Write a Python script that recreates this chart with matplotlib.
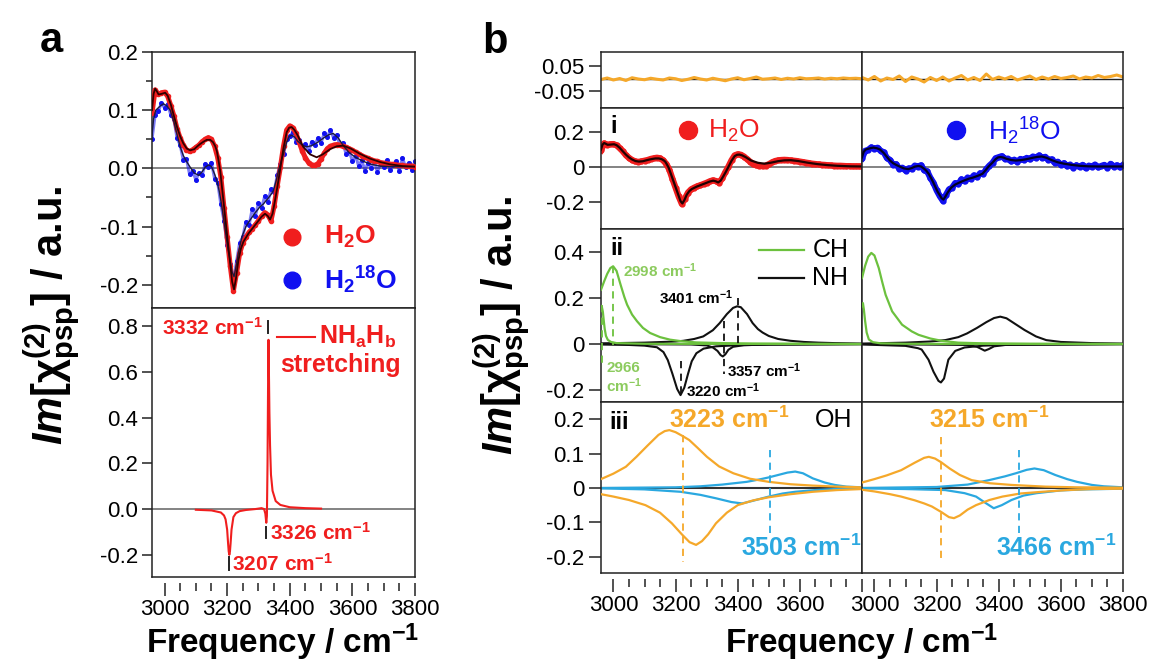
import matplotlib
matplotlib.use("Agg")
import matplotlib.pyplot as plt

plt.rcParams['font.family'] = ['Liberation Sans', 'DejaVu Sans']
plt.rcParams['axes.unicode_minus'] = False
plt.rcParams['mathtext.fontset'] = 'custom'
plt.rcParams['mathtext.rm'] = 'Liberation Sans'
plt.rcParams['mathtext.it'] = 'Liberation Sans:italic'
plt.rcParams['mathtext.bf'] = 'Liberation Sans:bold'
plt.rcParams['mathtext.bfit'] = 'Liberation Sans:bold:italic'
plt.rcParams['mathtext.sf'] = 'Liberation Sans'

# ---------------- data ----------------
freq_data = list(range(2960, 3801, 10))
h2o_data = [0.095, 0.135, 0.127, 0.130, 0.131, 0.124, 0.108, 0.090, 0.068, 0.052,
            0.040, 0.032, 0.029, 0.032, 0.036, 0.040, 0.046, 0.050, 0.053, 0.050,
            0.038, 0.018, -0.015, -0.068, -0.118, -0.168, -0.210, -0.180, -0.146, -0.128,
            -0.118, -0.110, -0.104, -0.097, -0.090, -0.082, -0.076, -0.080, -0.090, -0.065,
            -0.030, 0.002, 0.038, 0.066, 0.073, 0.070, 0.060, 0.045, 0.030, 0.018,
            0.010, 0.006, 0.005, 0.008, 0.016, 0.026, 0.034, 0.038, 0.040, 0.041,
            0.040, 0.038, 0.036, 0.034, 0.031, 0.028, 0.025, 0.022, 0.019, 0.017,
            0.015, 0.013, 0.012, 0.010, 0.009, 0.008, 0.007, 0.007, 0.006, 0.005,
            0.005, 0.004, 0.004, 0.004, 0.003]
h218o_data = [0.050, 0.092, 0.098, 0.112, 0.104, 0.110, 0.092, 0.084, 0.052, 0.040,
              0.014, 0.016, -0.010, -0.004, -0.020, -0.008, -0.012, 0.008, 0.002, 0.010,
              -0.018, -0.025, -0.062, -0.090, -0.132, -0.165, -0.192, -0.160, -0.128, -0.118,
              -0.092, -0.098, -0.070, -0.082, -0.060, -0.068, -0.048, -0.058, -0.036, -0.040,
              -0.012, 0.008, 0.024, 0.050, 0.056, 0.062, 0.046, 0.048, 0.032, 0.042,
              0.030, 0.046, 0.040, 0.052, 0.044, 0.060, 0.054, 0.066, 0.052, 0.058,
              0.040, 0.044, 0.024, 0.030, 0.012, 0.022, 0.004, 0.014, -0.004, 0.010,
              0.000, 0.012, -0.006, 0.008, 0.002, 0.014, -0.002, 0.006, 0.012, -0.004,
              0.018, 0.002, 0.010, -0.002, 0.012]

fit_h2o_f = [2960, 2965, 2970, 2975, 2981, 2990, 3002, 3010, 3020, 3030,
             3040, 3050, 3060, 3071, 3082, 3095, 3105, 3114, 3125, 3135,
             3146, 3155, 3162, 3167, 3172, 3178, 3183, 3188, 3195, 3204,
             3210, 3216, 3222, 3228, 3236, 3244, 3252, 3268, 3284, 3300,
             3310, 3321, 3330, 3337, 3345, 3353, 3361, 3369, 3380, 3390,
             3398, 3406, 3415, 3425, 3443, 3465, 3486, 3505, 3529, 3550,
             3571, 3595, 3624, 3655, 3688, 3720, 3760, 3800]
fit_h2o_v = [0.100, 0.128, 0.137, 0.133, 0.127, 0.128, 0.130, 0.125, 0.110, 0.090,
             0.071, 0.055, 0.043, 0.034, 0.031, 0.033, 0.038, 0.042, 0.046, 0.049,
             0.049, 0.045, 0.038, 0.030, 0.015, -0.005, -0.030, -0.055, -0.090, -0.135,
             -0.165, -0.195, -0.208, -0.190, -0.158, -0.138, -0.126, -0.112, -0.101, -0.090,
             -0.083, -0.078, -0.082, -0.088, -0.078, -0.055, -0.030, -0.003, 0.035, 0.062,
             0.070, 0.071, 0.066, 0.057, 0.037, 0.024, 0.019, 0.024, 0.033, 0.038,
             0.039, 0.034, 0.025, 0.017, 0.011, 0.007, 0.004, 0.003]
fit_h218o_f = [2960, 2965, 2972, 2980, 2988, 2997, 3008, 3018, 3030, 3040,
               3050, 3060, 3070, 3082, 3095, 3109, 3120, 3130, 3141, 3150,
               3160, 3167, 3175, 3182, 3188, 3195, 3203, 3210, 3216, 3222,
               3228, 3236, 3247, 3260, 3273, 3290, 3305, 3316, 3330, 3340,
               3348, 3357, 3366, 3374, 3380, 3390, 3398, 3406, 3415, 3425,
               3440, 3454, 3470, 3490, 3510, 3525, 3539, 3555, 3571, 3590,
               3610, 3635, 3660, 3688, 3720, 3760, 3800]
fit_h218o_v = [0.055, 0.085, 0.100, 0.104, 0.108, 0.111, 0.107, 0.100, 0.080, 0.058,
               0.037, 0.022, 0.012, 0.002, -0.008, -0.012, -0.006, 0.002, 0.006, 0.003,
               -0.010, -0.021, -0.040, -0.062, -0.083, -0.110, -0.140, -0.160, -0.178, -0.186,
               -0.170, -0.145, -0.118, -0.100, -0.089, -0.076, -0.066, -0.061, -0.052, -0.045,
               -0.038, -0.020, 0.000, 0.015, 0.025, 0.045, 0.055, 0.057, 0.054, 0.047,
               0.040, 0.037, 0.039, 0.045, 0.053, 0.058, 0.060, 0.052, 0.039, 0.027,
               0.019, 0.012, 0.007, 0.004, 0.003, 0.003, 0.003]

# NHaHb stretching spectrum (panel a, bottom)
nh_f = [3100, 3150, 3180, 3190, 3195, 3200, 3203, 3205, 3207, 3209,
        3211, 3214, 3220, 3228, 3240, 3260, 3290, 3310, 3318, 3322,
        3325, 3327, 3329, 3331, 3332, 3333, 3335, 3337, 3340, 3345,
        3355, 3370, 3400, 3450, 3500]
nh_v = [-0.003, -0.006, -0.015, -0.028, -0.045, -0.090, -0.150, -0.185, -0.200, -0.185,
        -0.150, -0.090, -0.035, -0.018, -0.009, -0.004, 0.000, 0.004, 0.000, -0.020,
        -0.060, -0.030, 0.200, 0.600, 0.740, 0.650, 0.420, 0.280, 0.150, 0.080,
        0.035, 0.018, 0.008, 0.004, 0.002]

# residuals (panel b, top)
freq_res = list(range(2960, 3801, 20))
res_h2o = [-0.004, 0.002, -0.006, 0.000, -0.008, 0.003, -0.002, -0.005, 0.001, -0.003,
           -0.006, 0.002, -0.001, -0.008, -0.003, 0.004, -0.002, -0.006, 0.001, -0.004,
           -0.009, -0.002, 0.003, -0.005, 0.000, 0.006, -0.003, -0.001, 0.002, -0.004,
           0.001, -0.002, 0.003, -0.001, 0.000, 0.002, -0.002, 0.001, -0.001, 0.002,
           0.000, 0.001, -0.001]
res_h218o = [0.004, -0.006, 0.008, -0.010, 0.002, -0.004, 0.010, -0.012, 0.006, -0.002,
             -0.014, 0.004, -0.008, 0.006, -0.010, 0.002, 0.012, -0.006, 0.004, -0.008,
             0.018, -0.004, 0.006, -0.002, 0.008, -0.006, 0.002, 0.010, -0.004, 0.006,
             -0.002, 0.008, 0.000, 0.004, 0.010, -0.002, 0.006, 0.002, 0.012, 0.004,
             0.008, 0.014, 0.006]

# row ii components, H2O (L) and H2-18O (R)
ch_big_L_f = [2960, 2970, 2980, 2990, 2999, 3010, 3023, 3035, 3044, 3060, 3076, 3095, 3118, 3150, 3182, 3220, 3267, 3350, 3450, 3600, 3800]
ch_big_L_v = [0.236, 0.272, 0.305, 0.330, 0.338, 0.318, 0.258, 0.205, 0.171, 0.128, 0.099, 0.070, 0.048, 0.030, 0.019, 0.012, 0.007, 0.004, 0.002, 0.001, 0.0]
ch_nar_L_f = [2960, 2963, 2966, 2969, 2972, 2976, 2982, 2992, 3010, 3100, 3800]
ch_nar_L_v = [0.165, 0.160, 0.140, 0.100, 0.065, 0.035, 0.018, 0.009, 0.004, 0.001, 0.0]
nh_pos_L_f = [2960, 3100, 3200, 3225, 3260, 3289, 3320, 3342, 3365, 3385, 3398, 3410, 3430, 3448, 3465, 3480, 3500, 3530, 3570, 3613, 3660, 3712, 3800]
nh_pos_L_v = [0.003, 0.006, 0.011, 0.014, 0.022, 0.033, 0.060, 0.091, 0.130, 0.157, 0.164, 0.160, 0.130, 0.091, 0.065, 0.050, 0.035, 0.022, 0.014, 0.009, 0.006, 0.004, 0.002]
nh_neg1_L_f = [2960, 3050, 3100, 3140, 3161, 3175, 3190, 3205, 3216, 3228, 3240, 3252, 3267, 3290, 3330, 3400, 3500, 3800]
nh_neg1_L_v = [-0.002, -0.004, -0.007, -0.014, -0.035, -0.070, -0.130, -0.195, -0.222, -0.190, -0.130, -0.075, -0.040, -0.020, -0.010, -0.005, -0.003, -0.001]
nh_neg2_L_f = [2960, 3250, 3300, 3320, 3335, 3345, 3352, 3360, 3370, 3385, 3420, 3500, 3800]
nh_neg2_L_v = [0.0, -0.002, -0.006, -0.015, -0.030, -0.048, -0.054, -0.045, -0.025, -0.012, -0.005, -0.002, 0.0]

ch_big_R_f = [2960, 2970, 2980, 2990, 3000, 3014, 3025, 3036, 3057, 3089, 3120, 3142, 3180, 3216, 3270, 3350, 3500, 3800]
ch_big_R_v = [0.287, 0.340, 0.380, 0.396, 0.385, 0.330, 0.270, 0.214, 0.142, 0.084, 0.055, 0.040, 0.024, 0.014, 0.006, 0.003, 0.001, 0.0]
ch_nar_R_f = [2960, 2963, 2966, 2970, 2975, 2982, 2995, 3020, 3100, 3800]
ch_nar_R_v = [0.165, 0.178, 0.150, 0.100, 0.050, 0.020, 0.008, 0.003, 0.001, 0.0]
nh_pos_R_f = [2960, 3100, 3180, 3228, 3270, 3298, 3330, 3360, 3385, 3405, 3425, 3450, 3483, 3520, 3553, 3600, 3700, 3800]
nh_pos_R_v = [0.002, 0.006, 0.011, 0.017, 0.030, 0.046, 0.070, 0.095, 0.113, 0.119, 0.112, 0.090, 0.061, 0.033, 0.017, 0.009, 0.004, 0.002]
nh_neg1_R_f = [2960, 3100, 3140, 3152, 3174, 3190, 3206, 3214, 3224, 3238, 3260, 3290, 3350, 3450, 3800]
nh_neg1_R_v = [-0.002, -0.008, -0.018, -0.024, -0.068, -0.120, -0.160, -0.167, -0.150, -0.068, -0.030, -0.015, -0.007, -0.003, -0.001]
nh_neg2_R_f = [2960, 3300, 3330, 3345, 3355, 3368, 3385, 3420, 3800]
nh_neg2_R_v = [0.0, -0.004, -0.012, -0.022, -0.029, -0.022, -0.010, -0.004, 0.0]

# row iii OH components
oh1_pos_L_f = [2960, 3000, 3040, 3074, 3110, 3145, 3165, 3180, 3200, 3222, 3244, 3270, 3301, 3340, 3386, 3440, 3500, 3570, 3642, 3720, 3800]
oh1_pos_L_v = [0.026, 0.042, 0.062, 0.091, 0.124, 0.155, 0.166, 0.169, 0.163, 0.152, 0.140, 0.118, 0.091, 0.063, 0.043, 0.027, 0.018, 0.011, 0.007, 0.004, 0.002]
oh1_neg_L_f = [2960, 3000, 3050, 3103, 3150, 3188, 3220, 3245, 3266, 3285, 3305, 3330, 3365, 3400, 3450, 3500, 3570, 3642, 3720, 3800]
oh1_neg_L_v = [-0.018, -0.025, -0.035, -0.050, -0.072, -0.103, -0.135, -0.158, -0.166, -0.155, -0.135, -0.103, -0.072, -0.050, -0.036, -0.027, -0.018, -0.011, -0.006, -0.003]
oh2_pos_L_f = [2960, 3200, 3280, 3350, 3429, 3470, 3500, 3530, 3560, 3585, 3610, 3642, 3680, 3712, 3750, 3800]
oh2_pos_L_v = [0.0, 0.002, 0.005, 0.010, 0.018, 0.025, 0.031, 0.038, 0.045, 0.048, 0.043, 0.028, 0.016, 0.009, 0.004, 0.002]
oh2_neg_L_f = [2960, 3100, 3216, 3280, 3330, 3380, 3414, 3450, 3500, 3545, 3585, 3650, 3712, 3800]
oh2_neg_L_v = [-0.001, -0.004, -0.011, -0.020, -0.030, -0.041, -0.045, -0.037, -0.025, -0.016, -0.011, -0.006, -0.003, -0.001]

oh1_pos_R_f = [2960, 3000, 3040, 3086, 3130, 3160, 3175, 3195, 3215, 3242, 3275, 3313, 3370, 3441, 3550, 3650, 3800]
oh1_pos_R_v = [0.016, 0.026, 0.037, 0.052, 0.074, 0.088, 0.091, 0.086, 0.075, 0.057, 0.038, 0.023, 0.014, 0.009, 0.004, 0.002, 0.001]
oh1_neg_R_f = [2960, 3000, 3050, 3086, 3130, 3160, 3185, 3215, 3240, 3256, 3275, 3300, 3327, 3370, 3412, 3470, 3540, 3620, 3700, 3800]
oh1_neg_R_v = [-0.005, -0.010, -0.018, -0.025, -0.036, -0.045, -0.054, -0.070, -0.085, -0.088, -0.080, -0.063, -0.050, -0.035, -0.025, -0.016, -0.011, -0.006, -0.003, -0.002]
oh2_pos_R_f = [2960, 3200, 3300, 3369, 3420, 3455, 3490, 3515, 3545, 3582, 3620, 3652, 3700, 3738, 3800]
oh2_pos_R_v = [0.0, 0.003, 0.010, 0.023, 0.034, 0.043, 0.053, 0.057, 0.052, 0.038, 0.026, 0.018, 0.009, 0.005, 0.002]
oh2_neg_R_f = [2960, 3100, 3228, 3290, 3327, 3360, 3384, 3410, 3441, 3480, 3522, 3600, 3680, 3800]
oh2_neg_R_v = [-0.001, -0.003, -0.006, -0.015, -0.025, -0.045, -0.059, -0.050, -0.035, -0.022, -0.015, -0.007, -0.004, -0.002]

x_major = [3000, 3200, 3400, 3600, 3800]
x_minor = [3050, 3100, 3150, 3250, 3300, 3350, 3450, 3500, 3550, 3650, 3700, 3750]

# ---------------- style ----------------
RED = '#F01E1E'
BLUE = '#1010F0'
ORANGE = '#F5A82A'
LBLUE = '#2AA8E0'
GREEN = '#6CC13E'
GREENT = '#8CCB5E'
FRAME = '#222222'
ZERO = '#7a7a7a'

W, H = 1149, 662
fig = plt.figure(figsize=(W / 100, H / 100), dpi=100)


def rect(l, r, t, b):
    return [l / W, 1 - b / H, (r - l) / W, (b - t) / H]


def setup(ax, ylim, yticks=None, ylabels=None, bottom=False, xlabels=None, ylen=7):
    ax.set_xlim(2960, 3800)
    ax.set_ylim(*ylim)
    for s in ax.spines.values():
        s.set_linewidth(1.1)
        s.set_color(FRAME)
    ax.tick_params(axis='both', which='both', direction='out', top=False, right=False,
                   labelsize=16, color=FRAME, width=1.1)
    if yticks is not None:
        ax.set_yticks(yticks)
        ax.set_yticklabels(ylabels)
        ax.tick_params(axis='y', length=ylen, pad=3)
    else:
        ax.set_yticks([])
    if bottom:
        ax.set_xticks(x_major)
        ax.set_xticklabels(xlabels)
        ax.set_xticks(x_minor, minor=True)
        ax.tick_params(axis='x', which='major', length=9, pad=3)
        ax.tick_params(axis='x', which='minor', length=6)
        ax.spines['bottom'].set_position(('outward', 4))
        ax.spines['bottom'].set_visible(False)
        ax.plot([0, 1], [0, 0], transform=ax.transAxes, color=FRAME, lw=1.1, clip_on=False, zorder=5)
    else:
        ax.set_xticks([])
        ax.set_xticks([], minor=True)


def vdash(ax, f, y0, y1, c):
    ax.plot([f, f], [y0, y1], color=c, lw=1.3, ls=(0, (4, 3)), zorder=4)


cm = r'cm$^{\mathbf{-1}}$'

# ---------------- panel a ----------------
axA1 = fig.add_axes(rect(152, 415, 52, 308))
setup(axA1, (-0.24, 0.2), [-0.2, -0.1, 0.0, 0.1, 0.2], ['-0.2', '-0.1', '0.0', '0.1', '0.2'])
axA1.set_yticks([-0.15, -0.05, 0.05, 0.15], minor=True)
axA1.tick_params(axis='y', which='minor', length=4)
axA1.axhline(0, color=ZERO, lw=1.3, zorder=1)
axA1.plot(freq_data, h218o_data, color=BLUE, lw=2.2, alpha=0.55, zorder=2)
axA1.plot(freq_data, h218o_data, 'o', color=BLUE, ms=2.6, zorder=2)
axA1.plot(freq_data, h2o_data, color=RED, lw=3.6, zorder=3)
axA1.plot(freq_data, h2o_data, 'o', color=RED, ms=3, zorder=3)
axA1.plot(fit_h218o_f, fit_h218o_v, color='#1a1a40', lw=1.0, zorder=4)
axA1.plot(fit_h2o_f, fit_h2o_v, color='#300000', lw=1.3, zorder=4)
axA1.plot([3406], [-0.118], 'o', color=RED, ms=12)
axA1.plot([3406], [-0.192], 'o', color=BLUE, ms=12)
axA1.text(3508, -0.118, r'$\mathbf{H_2O}$', color=RED, fontsize=19, va='center')
axA1.text(3508, -0.192, r'$\mathbf{H_2{}^{18}O}$', color=BLUE, fontsize=19, va='center')

axA2 = fig.add_axes(rect(152, 415, 308, 577))
setup(axA2, (-0.297, 0.879), [-0.2, 0.0, 0.2, 0.4, 0.6, 0.8],
      ['-0.2', '0.0', '0.2', '0.4', '0.6', '0.8'], bottom=True,
      xlabels=['3000', '3200', '3400', '3600', '3800'])
axA2.axhline(0, color=ZERO, lw=1.3, zorder=1)
axA2.plot(nh_f, nh_v, color=RED, lw=1.5, zorder=3)
axA2.text(3315, 0.791, '3332 ' + cm, color=RED, fontsize=15, fontweight='bold', ha='right', va='center')
axA2.plot([3330, 3330], [0.77, 0.82], color=FRAME, lw=1.4)
axA2.plot([3360, 3481], [0.753, 0.753], color=RED, lw=1.5)
axA2.text(3492, 0.753, r'NH$_{\mathbf{a}}$H$_{\mathbf{b}}$', color=RED, fontsize=18, fontweight='bold', va='center')
axA2.text(3369, 0.63, 'stretching', color=RED, fontsize=18, fontweight='bold', va='center')
axA2.plot([3324, 3324], [-0.079, -0.127], color=FRAME, lw=1.4)
axA2.text(3338, -0.105, '3326 ' + cm, color=RED, fontsize=15, fontweight='bold', va='center')
axA2.plot([3206, 3206], [-0.21, -0.267], color=FRAME, lw=1.4)
axA2.text(3216, -0.238, '3207 ' + cm, color=RED, fontsize=15, fontweight='bold', va='center')

# ---------------- panel b ----------------
cols = [(601, 862), (862, 1123)]
rows = [(52, 108), (108, 229), (229, 402), (402, 573)]
ylims = [(-0.118, 0.106), (-0.354, 0.337), (-0.252, 0.5), (-0.248, 0.251)]
yt = [([-0.05, 0.05], ['-0.05', '0.05']),
      ([-0.2, 0, 0.2], ['-0.2', '0', '0.2']),
      ([-0.2, 0, 0.2, 0.4], ['-0.2', '0', '0.2', '0.4']),
      ([-0.2, -0.1, 0, 0.1, 0.2], ['-0.2', '-0.1', '0', '0.1', '0.2'])]
axB = [[None, None] for _ in rows]
for r, (t, b) in enumerate(rows):
    for c, (l, rr) in enumerate(cols):
        ax = fig.add_axes(rect(l, rr, t, b))
        bottom = (r == 3)
        xl = (['3000', '3200', '3400', '3600', ''] if c == 0 else ['3000', '3200', '3400', '3600', '3800'])
        if c == 0:
            setup(ax, ylims[r], yt[r][0], yt[r][1], bottom=bottom, xlabels=xl, ylen=9)
        else:
            setup(ax, ylims[r], None, None, bottom=bottom, xlabels=xl)
        axB[r][c] = ax

# residuals
for c, res in enumerate([res_h2o, res_h218o]):
    ax = axB[0][c]
    ax.axhline(0, color=FRAME, lw=1.0, zorder=1)
    ax.plot(freq_res, res, color=ORANGE, lw=2.2, zorder=2)

# row i
ax = axB[1][0]
ax.axhline(0, color=ZERO, lw=1.3, zorder=1)
ax.plot(freq_data, h2o_data, color=RED, lw=4.5, zorder=2)
ax.plot(freq_data, h2o_data, 'o', color=RED, ms=3.5, zorder=2)
ax.plot(fit_h2o_f, fit_h2o_v, color='#200000', lw=1.6, zorder=3)
ax.text(2990, 0.234, 'i', fontsize=17, fontweight='bold', va='center')
ax.plot([3240], [0.21], 'o', color=RED, ms=13)
ax.text(3305, 0.205, r'$\mathrm{H_2O}$', color=RED, fontsize=19, va='center')
ax = axB[1][1]
ax.axhline(0, color=ZERO, lw=1.3, zorder=1)
ax.plot(freq_data, h218o_data, color=BLUE, lw=4.5, zorder=2)
ax.plot(freq_data, h218o_data, 'o', color=BLUE, ms=3.5, zorder=2)
ax.plot(fit_h218o_f, fit_h218o_v, color='#000020', lw=1.6, zorder=3)
ax.plot([3262], [0.21], 'o', color=BLUE, ms=13)
ax.text(3365, 0.205, r'$\mathrm{H_2{}^{18}O}$', color=BLUE, fontsize=19, va='center')

# row ii
comps_ii = [
    (ch_big_L_f, ch_big_L_v, ch_nar_L_f, ch_nar_L_v, nh_pos_L_f, nh_pos_L_v,
     nh_neg1_L_f, nh_neg1_L_v, nh_neg2_L_f, nh_neg2_L_v),
    (ch_big_R_f, ch_big_R_v, ch_nar_R_f, ch_nar_R_v, nh_pos_R_f, nh_pos_R_v,
     nh_neg1_R_f, nh_neg1_R_v, nh_neg2_R_f, nh_neg2_R_v)]
for c, cc in enumerate(comps_ii):
    ax = axB[2][c]
    ax.axhline(0, color='#333333', lw=1.3, zorder=1)
    ax.plot(cc[4], cc[5], color='#111111', lw=1.5, zorder=2)
    ax.plot(cc[6], cc[7], color='#111111', lw=1.5, zorder=2)
    ax.plot(cc[8], cc[9], color='#111111', lw=1.5, zorder=2)
    ax.plot(cc[0], cc[1], color=GREEN, lw=1.6, zorder=3)
    ax.plot(cc[2], cc[3], color=GREEN, lw=1.6, zorder=3)
ax = axB[2][0]
ax.text(2990, 0.417, 'ii', fontsize=17, fontweight='bold', va='center')
vdash(ax, 2999, 0.338, -0.004, GREEN)
vdash(ax, 2962, 0.17, -0.09, GREEN)
ax.text(3030, 0.317, '2998 ' + cm, color=GREENT, fontsize=11, fontweight='bold', va='center')
ax.text(2977, -0.104, '2966', color=GREENT, fontsize=11, fontweight='bold', va='center')
ax.text(2977, -0.183, cm, color=GREENT, fontsize=11, fontweight='bold', va='center')
vdash(ax, 3401, 0.2, -0.017, '#111111')
ax.text(3386, 0.2, '3401 ' + cm, fontsize=11, fontweight='bold', ha='right', va='center')
vdash(ax, 3355, 0.1, -0.13, '#111111')
ax.text(3365, -0.117, '3357 ' + cm, fontsize=11, fontweight='bold', va='center')
vdash(ax, 3216, -0.075, -0.222, '#111111')
ax.text(3232, -0.204, '3220 ' + cm, fontsize=11, fontweight='bold', va='center')
ax.plot([3470, 3614], [0.409, 0.409], color=GREEN, lw=1.6)
ax.text(3640, 0.409, 'CH', fontsize=18, va='center')
ax.plot([3470, 3614], [0.287, 0.287], color='#111111', lw=1.6)
ax.text(3640, 0.287, 'NH', fontsize=18, va='center')

# row iii
comps_iii = [
    (oh1_pos_L_f, oh1_pos_L_v, oh1_neg_L_f, oh1_neg_L_v, oh2_pos_L_f, oh2_pos_L_v, oh2_neg_L_f, oh2_neg_L_v),
    (oh1_pos_R_f, oh1_pos_R_v, oh1_neg_R_f, oh1_neg_R_v, oh2_pos_R_f, oh2_pos_R_v, oh2_neg_R_f, oh2_neg_R_v)]
for c, cc in enumerate(comps_iii):
    ax = axB[3][c]
    ax.axhline(0, color='#333333', lw=1.5, zorder=1)
    ax.plot(cc[4], cc[5], color=LBLUE, lw=1.6, zorder=2)
    ax.plot(cc[6], cc[7], color=LBLUE, lw=1.6, zorder=2)
    ax.plot(cc[0], cc[1], color=ORANGE, lw=1.6, zorder=3)
    ax.plot(cc[2], cc[3], color=ORANGE, lw=1.6, zorder=3)
ax = axB[3][0]
ax.text(2988, 0.19, 'iii', fontsize=17, fontweight='bold', va='center')
vdash(ax, 3223, 0.155, -0.215, ORANGE)
vdash(ax, 3503, 0.11, -0.13, LBLUE)
ax.text(3178, 0.198, '3223 ' + cm, color=ORANGE, fontsize=18, fontweight='bold', va='center')
ax.text(3648, 0.198, 'OH', fontsize=18, va='center')
ax.text(3412, -0.175, '3503 ' + cm, color=LBLUE, fontsize=18, fontweight='bold', va='center')
ax = axB[3][1]
vdash(ax, 3215, 0.15, -0.215, ORANGE)
vdash(ax, 3466, 0.11, -0.13, LBLUE)
ax.text(3176, 0.198, '3215 ' + cm, color=ORANGE, fontsize=18, fontweight='bold', va='center')
ax.text(3390, -0.175, '3466 ' + cm, color=LBLUE, fontsize=18, fontweight='bold', va='center')

# ---------------- figure labels ----------------
ylab = r'$\mathbfit{Im}\mathbf{[\chi^{(2)}_{psp}]}$ / a.u.'
fig.text(52 / W, 1 - 315 / H, ylab, rotation=90, fontsize=30, fontweight='bold', ha='center', va='center')
fig.text(502 / W, 1 - 325 / H, ylab, rotation=90, fontsize=30, fontweight='bold', ha='center', va='center')
xlab = 'Frequency / ' + cm
fig.text(283 / W, 1 - 653 / H, xlab, fontsize=24, fontweight='bold', ha='center', va='baseline')
fig.text(862 / W, 1 - 653 / H, xlab, fontsize=24, fontweight='bold', ha='center', va='baseline')
fig.text(40 / W, 1 - 52 / H, 'a', fontsize=30, fontweight='bold', va='baseline')
fig.text(482 / W, 1 - 53 / H, 'b', fontsize=30, fontweight='bold', va='baseline')

fig.savefig('out.png', dpi=100)
